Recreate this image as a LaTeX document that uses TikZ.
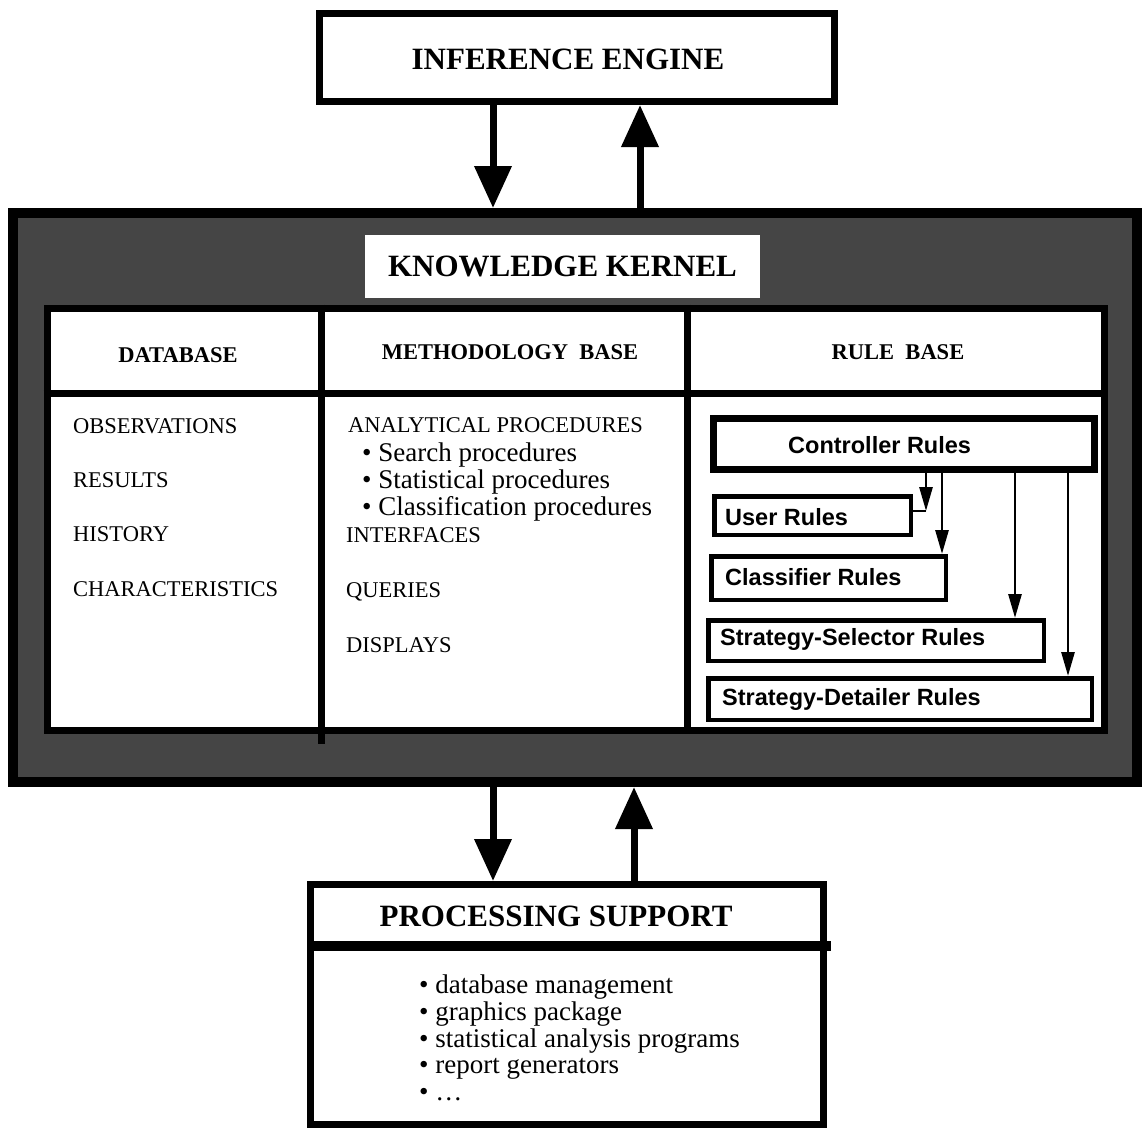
\documentclass[tikz,border=0pt]{standalone}
\usepackage{fontspec}
\setmainfont{Liberation Serif}
\newfontfamily\rulesans{Liberation Sans}
\usetikzlibrary{arrows.meta}
\begin{document}
\begin{tikzpicture}[x=1pt,y=-1pt,
  heavybox/.style={draw,line width=7pt,inner sep=0pt,fill=white},
  rulebox/.style={draw,line width=4.5pt,inner sep=0pt,fill=white},
  bigarrow/.style={line width=7pt,-{Triangle[width=36pt,length=42pt]}},
  smallarrow/.style={line width=2.8pt,-{Triangle[width=13pt,length=24pt]}},
  titlefont/.style={font=\fontsize{31}{36}\selectfont\bfseries},
  headfont/.style={font=\fontsize{22.5}{26}\selectfont\bfseries},
  capfont/.style={font=\fontsize{22.5}{26}\selectfont},
  itemfont/.style={font=\fontsize{27}{30}\selectfont},
  rulefont/.style={font=\rulesans\bfseries\fontsize{23.5}{27}\selectfont},
  txt/.style={inner sep=0pt,anchor=base west},
]
\useasboundingbox (0,0) rectangle (1146,1128);
\fill[white] (0,0) rectangle (1146,1128);

% inference engine
\node[heavybox,minimum width=515pt,minimum height=88pt] (ie) at (577,57.5) {};
\node[titlefont,inner sep=0pt] (iet) at (568,59) {INFERENCE ENGINE};

% knowledge kernel frame with its shaded border
\node[draw=black,line width=10pt,fill=black!73,inner sep=0pt,
      minimum width=1124pt,minimum height=569pt] (kernel) at (575,497.5) {};
\node[fill=white,inner sep=0pt,minimum width=395pt,minimum height=63pt,titlefont]
      (kk) at (562.5,266.5) {KNOWLEDGE KERNEL};

% three-column table
\node[draw,line width=7pt,fill=white,inner sep=0pt,
      minimum width=1057pt,minimum height=422pt] (table) at (575.5,519) {};
\coordinate (hd) at (0,393);
\coordinate (c1) at (321,0);
\coordinate (c2) at (687,0);
\draw[line width=7pt] (table.west |- hd) -- (table.east |- hd);
\draw[line width=7pt] (table.north -| c1) -- ([yshift=-10pt]table.south -| c1);
\draw[line width=7pt] (table.north -| c2) -- (table.south -| c2);

\node[headfont] (hdb) at (178,355) {DATABASE};
\node[headfont] (hmb) at (510,352) {METHODOLOGY\ \ BASE};
\node[headfont] (hrb) at (898,352) {RULE\ \ BASE};

% database column
\node[capfont,txt] (obs) at (73,433) {OBSERVATIONS};
\node[capfont,txt] (res) at (73,487) {RESULTS};
\node[capfont,txt] (his) at (73,541) {HISTORY};
\node[capfont,txt] (cha) at (73,596) {CHARACTERISTICS};

% methodology column
\node[capfont,txt] (ana) at (348,432) {ANALYTICAL PROCEDURES};
\node[itemfont,txt] (srch) at (362,461) {\textbullet\ Search procedures};
\node[itemfont,txt] (stat) at (362,488) {\textbullet\ Statistical procedures};
\node[itemfont,txt] (clas) at (362,515) {\textbullet\ Classification procedures};
\node[capfont,txt] (intf) at (346,542) {INTERFACES};
\node[capfont,txt] (que) at (346,597) {QUERIES};
\node[capfont,txt] (disp) at (346,652) {DISPLAYS};

% rule base column
\node[heavybox,minimum width=381pt,minimum height=51pt] (ctrl) at (904,444) {};
\node[rulefont,txt] (ctrlt) at (788,453) {Controller Rules};
\node[rulebox,minimum width=196.5pt,minimum height=38.5pt] (user) at (812.5,515.5) {};
\node[rulefont,txt] (usert) at (725,525) {User Rules};
\node[rulebox,minimum width=234.5pt,minimum height=43.5pt] (cls) at (828.5,578) {};
\node[rulefont,txt] (clst) at (725,585) {Classifier Rules};
\node[rulebox,minimum width=335.5pt,minimum height=40.5pt] (sel) at (876,640.5) {};
\node[rulefont,txt] (selt) at (720,645) {Strategy-Selector Rules};
\node[rulebox,minimum width=383.5pt,minimum height=41.5pt] (det) at (900,699) {};
\node[rulefont,txt] (dett) at (722,705) {Strategy-Detailer Rules};

\coordinate (a1) at (926,511);
\coordinate (a2) at (942,0);
\coordinate (a3) at (1015,0);
\coordinate (a4) at (1068,0);
\draw[smallarrow] (ctrl.south -| a1) -- (a1);
\draw[line width=2.8pt] (a1) -- (user.east |- a1);
\draw[smallarrow] (ctrl.south -| a2) -- (cls.north -| a2);
\draw[smallarrow] (ctrl.south -| a3) -- (sel.north -| a3);
\draw[smallarrow] (ctrl.south -| a4) -- (det.north -| a4);

% processing support
\node[draw,line width=7pt,fill=white,inner sep=0pt,
      minimum width=513pt,minimum height=240pt] (ps) at (567,1004.5) {};
\coordinate (dv) at (0,945.5);
\draw[line width=10pt] (ps.west |- dv) -- ([xshift=4pt]ps.east |- dv);
\node[titlefont] (pst) at (556,916) {PROCESSING SUPPORT};
\node[itemfont,txt] (p1) at (419,993) {\textbullet\ database management};
\node[itemfont,txt] (p2) at (419,1020) {\textbullet\ graphics package};
\node[itemfont,txt] (p3) at (419,1047) {\textbullet\ statistical analysis programs};
\node[itemfont,txt] (p4) at (419,1073) {\textbullet\ report generators};
\node[itemfont,txt] (p5) at (419,1100) {\textbullet\ …};

% links between the engine, the kernel and the support layer
\coordinate (u1) at (493,0);
\coordinate (u2) at (640,0);
\coordinate (d1) at (493,0);
\coordinate (d2) at (634,0);
\draw[bigarrow] (ie.south -| u1) -- (kernel.north -| u1);
\draw[bigarrow] (kernel.north -| u2) -- (ie.south -| u2);
\draw[bigarrow] (kernel.south -| d1) -- (ps.north -| d1);
\draw[bigarrow] (ps.north -| d2) -- (kernel.south -| d2);
\end{tikzpicture}
\end{document}
